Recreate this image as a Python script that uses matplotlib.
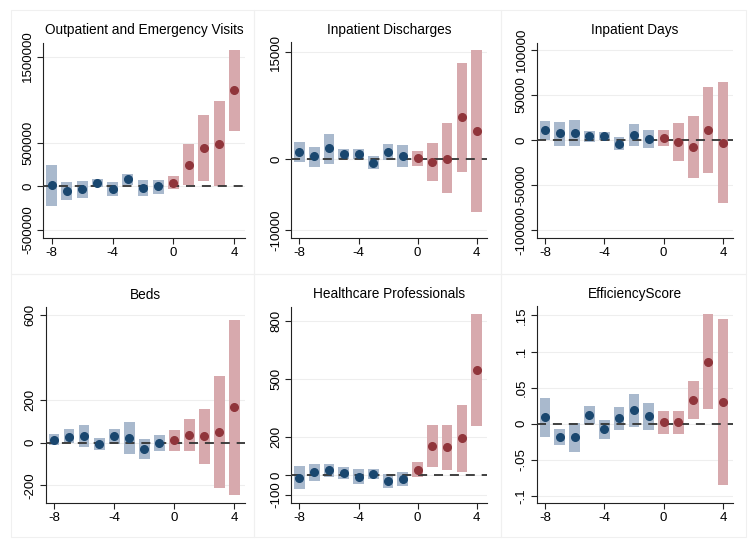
import matplotlib
matplotlib.use("Agg")
import matplotlib.pyplot as plt
from matplotlib.patches import Rectangle
import numpy as np

plt.rcParams['font.family'] = ['Liberation Sans', 'DejaVu Sans']

periods = [-8, -7, -6, -5, -4, -3, -2, -1, 0, 1, 2, 3, 4]

titles = ["Outpatient and Emergency Visits", "Inpatient Discharges", "Inpatient Days",
          "Beds", "Healthcare Professionals", "EfficiencyScore"]

visits_est = [11500, -50000, -31000, 35000, -27000, 81000, -19000, 0, 42000, 250000, 442000, 492000, 1108000]
visits_hi = [242000, 46000, 65000, 88000, 54000, 142000, 77000, 77000, 119000, 492000, 819000, 981000, 1577000]
visits_lo = [-223000, -154000, -131000, -8000, -112000, 19000, -115000, -85000, -31000, 12000, 58000, 0, 635000]

disch_est = [1030, 375, 1550, 700, 660, -520, 985, 470, 140, -470, 50, 5860, 3890]
disch_hi = [2440, 1690, 3560, 1400, 1360, 420, 2110, 1970, 1170, 2300, 5020, 13550, 15330]
disch_lo = [-420, -1080, -660, -50, -50, -1450, -140, -1170, -940, -3100, -4830, -1830, -7500]

days_est = [11500, 7400, 8100, 4100, 4100, -4100, 5550, 1100, 2600, -1850, -7800, 11500, -3000]
days_hi = [21500, 20400, 22200, 9600, 8500, 3300, 17800, 10700, 10700, 18500, 26600, 58500, 64400]
days_lo = [500, -6300, -6300, -1850, 0, -11500, -6700, -9300, -6700, -23000, -42600, -36300, -70300]

beds_est = [14, 25, 33, -6, 30, 23, -28, -2, 14, 37, 30, 50, 166]
beds_hi = [41, 62, 83, 20, 62, 97, 16, 34, 61, 112, 158, 312, 575]
beds_lo = [-11, -3, -22, -36, -6, -52, -77, -41, -37, -37, -102, -211, -245]

prof_est = [-12, 17, 28, 12, -7, 7, -29, -19, 29, 152, 145, 191, 543]
prof_hi = [48, 60, 57, 41, 33, 31, 5, 16, 67, 260, 262, 362, 833]
prof_lo = [-71, -31, -9, -17, -47, -19, -64, -55, -9, 43, 28, 17, 255]

eff_est = [0.0088, -0.0181, -0.0186, 0.012, -0.0074, 0.0079, 0.0186, 0.0102, 0.0019, 0.0019, 0.0325, 0.086, 0.030]
eff_hi = [0.0357, -0.007, 0.001, 0.025, 0.0056, 0.0237, 0.0418, 0.0283, 0.018, 0.018, 0.059, 0.152, 0.1457]
eff_lo = [-0.0186, -0.0297, -0.0385, 0.0, -0.0204, -0.0079, -0.0046, -0.0084, -0.0144, -0.0144, 0.0065, 0.0204, -0.085]

yticks = [
    ([-500000, 0, 500000, 1500000], ["-500000", "0", "500000", "1500000"]),
    ([-10000, 0, 15000], ["-10000", "0", "15000"]),
    ([-100000, -50000, 0, 50000, 100000], ["-100000", "-50000", "0", "50000", "100000"]),
    ([-200, 0, 200, 600], ["-200", "0", "200", "600"]),
    ([-100, 0, 200, 500, 800], ["-100", "0", "200", "500", "800"]),
    ([-0.1, -0.05, 0, 0.05, 0.1, 0.15], ["-.1", "-.05", "0", ".05", ".1", ".15"]),
]
ylims = [(-600000, 1660000), (-11160, 16400), (-109000, 108000),
         (-284, 634), (-145, 872), (-0.11, 0.163)]

data = [(visits_est, visits_lo, visits_hi), (disch_est, disch_lo, disch_hi),
        (days_est, days_lo, days_hi), (beds_est, beds_lo, beds_hi),
        (prof_est, prof_lo, prof_hi), (eff_est, eff_lo, eff_hi)]

W, H = 756, 549
fig = plt.figure(figsize=(W / 100, H / 100), dpi=100)

# axes pixel boxes: left, right, top, bottom
boxes = [
    (43.3, 245, 42.7, 238.3),
    (291.3, 487, 42.3, 238.3),
    (536.7, 733.3, 42.7, 238.3),
    (45.7, 245, 307.3, 503.3),
    (291.3, 487, 306.7, 503.3),
    (536.7, 733.3, 306, 503.3),
]
# panel frame boxes (x0, x1, y0, y1) in pixels
frames = [
    (11, 254, 10, 274), (254, 501, 10, 274), (501, 746, 10, 274),
    (11, 254, 274, 537), (254, 501, 274, 537), (501, 746, 274, 537),
]
for (x0, x1, y0, y1) in frames:
    fig.patches.append(Rectangle((x0 / W, 1 - y1 / H), (x1 - x0) / W, (y1 - y0) / H,
                                 transform=fig.transFigure, fill=False,
                                 edgecolor='#f0f0f0', linewidth=0.8))

blue_bar = '#a9b9cd'
blue_pt = '#1a476f'
red_bar = '#d7a9ad'
red_pt = '#90353b'

x = np.array(periods)
for i, (l, r, t, b) in enumerate(boxes):
    ax = fig.add_axes([l / W, 1 - b / H, (r - l) / W, (b - t) / H])
    est, lo, hi = [np.array(v, dtype=float) for v in data[i]]
    pre = x < 0
    post = ~pre
    ax.bar(x[pre], hi[pre] - lo[pre], bottom=lo[pre], width=0.72, color=blue_bar, zorder=2)
    ax.bar(x[post], hi[post] - lo[post], bottom=lo[post], width=0.72, color=red_bar, zorder=2)
    ax.axhline(0, color='#333333', linestyle=(0, (5.0, 3.8)), linewidth=1.3, zorder=3)
    ax.plot(x[pre], est[pre], 'o', color=blue_pt, markersize=5.5, zorder=4)
    ax.plot(x[post], est[post], 'o', color=red_pt, markersize=5.5, zorder=4)
    ax.set_xlim(-8.55, 4.7)
    ax.set_ylim(*ylims[i])
    ax.set_xticks([-8, -4, 0, 4])
    ax.set_xticklabels(["-8", "-4", "0", "4"])
    ticks, labs = yticks[i]
    ax.set_yticks(ticks)
    ax.set_yticklabels(labs, rotation=90, va='center')
    ax.tick_params(axis='both', labelsize=9.5, length=4, width=0.8, color='#222222', pad=2.5)
    ax.grid(axis='y', color='#eeeeee', linewidth=0.8, zorder=0)
    ax.set_axisbelow(True)
    for s in ['top', 'right']:
        ax.spines[s].set_visible(False)
    for s in ['left', 'bottom']:
        ax.spines[s].set_color('#222222')
        ax.spines[s].set_linewidth(0.8)
    ax.set_title(titles[i], fontsize=9.8, pad=6)

fig.savefig("out.png", dpi=100, facecolor='white')
